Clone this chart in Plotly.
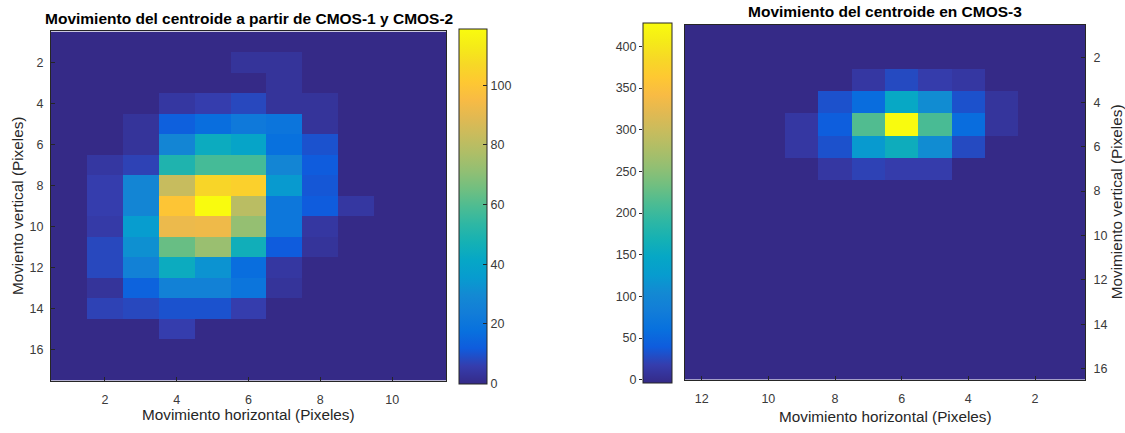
import plotly.graph_objects as go

W, H = 1125, 433

# ---------------- data ----------------
left_x = [1, 2, 3, 4, 5, 6, 7, 8, 9, 10, 11]
left_y = list(range(1, 18))
left_z = [
    [0, 0, 0, 0, 0, 0, 0, 0, 0, 0, 0],
    [0, 0, 0, 0, 0, 3, 3, 0, 0, 0, 0],
    [0, 0, 0, 0, 0, 0, 3, 0, 0, 0, 0],
    [0, 0, 0, 4, 6, 8, 3, 3, 0, 0, 0],
    [0, 0, 3, 13, 17, 22, 20, 3, 0, 0, 0],
    [0, 0, 3, 28, 44, 40, 18, 10, 0, 0, 0],
    [0, 4, 7, 50, 58, 58, 28, 12, 0, 0, 0],
    [0, 6, 28, 83, 106, 104, 35, 11, 0, 0, 0],
    [0, 6, 28, 100, 119, 80, 21, 12, 4, 0, 0],
    [0, 5, 36, 92, 93, 72, 21, 4, 0, 0, 0],
    [0, 8, 32, 64, 73, 46, 12, 3, 0, 0, 0],
    [0, 8, 26, 44, 33, 17, 4, 0, 0, 0, 0],
    [0, 3, 14, 26, 26, 20, 3, 0, 0, 0, 0],
    [0, 7, 8, 10, 10, 6, 0, 0, 0, 0, 0],
    [0, 0, 0, 6, 0, 0, 0, 0, 0, 0, 0],
    [0, 0, 0, 0, 0, 0, 0, 0, 0, 0, 0],
    [0, 0, 0, 0, 0, 0, 0, 0, 0, 0, 0],
]
left_zmax = 119
left_cb_ticks = [0, 20, 40, 60, 80, 100]
left_xticks = [2, 4, 6, 8, 10]
left_yticks = [2, 4, 6, 8, 10, 12, 14, 16]

right_x = list(range(1, 13))
right_y = list(range(1, 17))
right_z = [
    [0, 0, 0, 0, 0, 0, 0, 0, 0, 0, 0, 0],
    [0, 0, 0, 0, 0, 0, 0, 0, 0, 0, 0, 0],
    [0, 0, 0, 15, 20, 30, 15, 0, 0, 0, 0, 0],
    [0, 0, 12, 35, 110, 150, 60, 35, 0, 0, 0, 0],
    [0, 0, 12, 60, 210, 425, 215, 45, 15, 0, 0, 0],
    [0, 0, 0, 30, 110, 160, 125, 35, 15, 0, 0, 0],
    [0, 0, 0, 0, 20, 20, 25, 15, 0, 0, 0, 0],
    [0, 0, 0, 0, 0, 0, 0, 0, 0, 0, 0, 0],
    [0, 0, 0, 0, 0, 0, 0, 0, 0, 0, 0, 0],
    [0, 0, 0, 0, 0, 0, 0, 0, 0, 0, 0, 0],
    [0, 0, 0, 0, 0, 0, 0, 0, 0, 0, 0, 0],
    [0, 0, 0, 0, 0, 0, 0, 0, 0, 0, 0, 0],
    [0, 0, 0, 0, 0, 0, 0, 0, 0, 0, 0, 0],
    [0, 0, 0, 0, 0, 0, 0, 0, 0, 0, 0, 0],
    [0, 0, 0, 0, 0, 0, 0, 0, 0, 0, 0, 0],
    [0, 0, 0, 0, 0, 0, 0, 0, 0, 0, 0, 0],
]
right_zmax = 425
right_cb_ticks = [0, 50, 100, 150, 200, 250, 300, 350, 400]
right_xticks = [2, 4, 6, 8, 10, 12]
right_yticks = [2, 4, 6, 8, 10, 12, 14, 16]

left_title = "Movimiento del centroide a partir de CMOS-1 y CMOS-2"
right_title = "Movimiento del centroide en CMOS-3"
left_xlabel = "Movimiento horizontal (Pixeles)"
left_ylabel = "Moviento vertical (Pixeles)"
right_xlabel = "Movimiento horizontal (Pixeles)"
right_ylabel = "Movimiento vertical (Pixeles)"

# ---------------- style ----------------
parula = [
    [0.2081, 0.1663, 0.5292], [0.2081, 0.2386, 0.6771], [0.0591, 0.3598, 0.8683],
    [0.0329, 0.4430, 0.8720], [0.0723, 0.4887, 0.8467], [0.0749, 0.5375, 0.8263],
    [0.0265, 0.6137, 0.8135], [0.0228, 0.6535, 0.7768], [0.0843, 0.6928, 0.7062],
    [0.1801, 0.7177, 0.6424], [0.3022, 0.7376, 0.5712], [0.4420, 0.7481, 0.5033],
    [0.5709, 0.7485, 0.4494], [0.6834, 0.7435, 0.4044], [0.7858, 0.7356, 0.3633],
    [0.8824, 0.7274, 0.3217], [0.9739, 0.7314, 0.2666], [0.9955, 0.7861, 0.1967],
    [0.9697, 0.8481, 0.1475], [0.9598, 0.9218, 0.0948], [0.9763, 0.9831, 0.0538],
]
n = len(parula)
colorscale = [[i / (n - 1), "rgb(%d,%d,%d)" % tuple(round(c * 255) for c in col)]
              for i, col in enumerate(parula)]

FONT = "Liberation Sans, Arial, sans-serif"
TICKC = "#3a3a3a"
LINEC = "#262626"
TITLE_SIZE = 15.5
LABEL_SIZE = 15.3
TICK_SIZE = 12.5


def px(x):
    return x / W


def py(y):
    return 1 - y / H


# pixel geometry
L = dict(x0=51, x1=446, y0=32, y1=387)
R = dict(x0=685, x1=1085, y0=25, y1=386)
LCB = dict(x0=459, x1=487)
RCB = dict(x0=643, x1=672, y0=26, y1=386)

fig = go.Figure()

fig.add_trace(go.Heatmap(
    x=left_x, y=left_y, z=left_z, zmin=0, zmax=left_zmax,
    colorscale=colorscale, xaxis="x", yaxis="y", hoverinfo="skip",
    colorbar=dict(
        x=px(LCB["x0"]), xanchor="left", xpad=0, ypad=0,
        y=py((L["y0"] + L["y1"]) / 2), yanchor="middle",
        thickness=LCB["x1"] - LCB["x0"], thicknessmode="pixels",
        len=L["y1"] - L["y0"], lenmode="pixels",
        outlinewidth=1, outlinecolor=LINEC,
        tickvals=left_cb_ticks, ticks="inside", ticklen=4, tickcolor=LINEC,
        tickfont=dict(family=FONT, size=TICK_SIZE, color=TICKC),
    ),
))

fig.add_trace(go.Heatmap(
    x=right_x, y=right_y, z=right_z, zmin=0, zmax=right_zmax,
    colorscale=colorscale, xaxis="x2", yaxis="y2", hoverinfo="skip",
    colorbar=dict(
        x=px(RCB["x0"]), xanchor="left", xpad=0, ypad=0,
        y=py((RCB["y0"] + RCB["y1"]) / 2), yanchor="middle",
        thickness=RCB["x1"] - RCB["x0"], thicknessmode="pixels",
        len=RCB["y1"] - RCB["y0"], lenmode="pixels",
        outlinewidth=1, outlinecolor=LINEC,
        tickvals=right_cb_ticks, ticks="", showticklabels=False,
    ),
))

# helper trace so the right colorbar's label axis (on its left) is drawn
fig.add_trace(go.Scatter(
    x=[0, 0], y=[0, right_zmax], mode="none", xaxis="x3", yaxis="y3",
    showlegend=False, hoverinfo="skip",
))

common = dict(showgrid=False, zeroline=False, showline=True, linecolor=LINEC,
              linewidth=1, mirror=True, ticks="inside", ticklen=4,
              tickcolor=LINEC, tickfont=dict(family=FONT, size=TICK_SIZE, color=TICKC))

fig.update_layout(
    width=W, height=H, margin=dict(l=0, r=0, t=0, b=0),
    paper_bgcolor="white", plot_bgcolor="white", showlegend=False,
    xaxis=dict(domain=[px(L["x0"]), px(L["x1"])], range=[0.5, 11.5],
               tickvals=left_xticks, anchor="y", ticklabelstandoff=7, **common),
    yaxis=dict(domain=[py(L["y1"]), py(L["y0"])], range=[17.5, 0.5],
               tickvals=left_yticks, anchor="x", ticklabelstandoff=4, **common),
    xaxis2=dict(domain=[px(R["x0"]), px(R["x1"])], range=[12.5, 0.5],
                tickvals=right_xticks, anchor="y2", ticklabelstandoff=7, **common),
    yaxis2=dict(domain=[py(R["y1"]), py(R["y0"])], range=[16.5, 0.5],
                tickvals=right_yticks, anchor="x2", side="right",
                ticklabelstandoff=5, **common),
    xaxis3=dict(domain=[px(RCB["x0"]), px(RCB["x1"])], range=[-1, 1],
                anchor="y3", visible=False),
    yaxis3=dict(domain=[py(RCB["y1"]), py(RCB["y0"])], range=[0, right_zmax],
                anchor="x3", side="left", tickvals=right_cb_ticks,
                showgrid=False, zeroline=False, showline=False,
                ticks="outside", ticklen=3, tickcolor=LINEC,
                tickfont=dict(family=FONT, size=TICK_SIZE, color=TICKC)),
)

ann = []
ann.append(dict(text="<b>%s</b>" % left_title, x=px((L["x0"] + L["x1"]) / 2), y=py(19),
                font=dict(family=FONT, size=TITLE_SIZE, color="black")))
ann.append(dict(text="<b>%s</b>" % right_title, x=px((R["x0"] + R["x1"]) / 2), y=py(12),
                font=dict(family=FONT, size=TITLE_SIZE, color="black")))
ann.append(dict(text=left_xlabel, x=px((L["x0"] + L["x1"]) / 2), y=py(421),
                font=dict(family=FONT, size=LABEL_SIZE, color=LINEC)))
ann.append(dict(text=right_xlabel, x=px((R["x0"] + R["x1"]) / 2), y=py(423),
                font=dict(family=FONT, size=LABEL_SIZE, color=LINEC)))
ann.append(dict(text=left_ylabel, x=px(17), y=py((L["y0"] + L["y1"]) / 2), textangle=-90,
                font=dict(family=FONT, size=LABEL_SIZE, color=LINEC)))
ann.append(dict(text=right_ylabel, x=px(1116), y=py((R["y0"] + R["y1"]) / 2), textangle=-90,
                font=dict(family=FONT, size=LABEL_SIZE, color=LINEC)))
for a in ann:
    a.update(xref="paper", yref="paper", showarrow=False, xanchor="center", yanchor="middle")
fig.update_layout(annotations=ann)

fig.write_html("out.html")
